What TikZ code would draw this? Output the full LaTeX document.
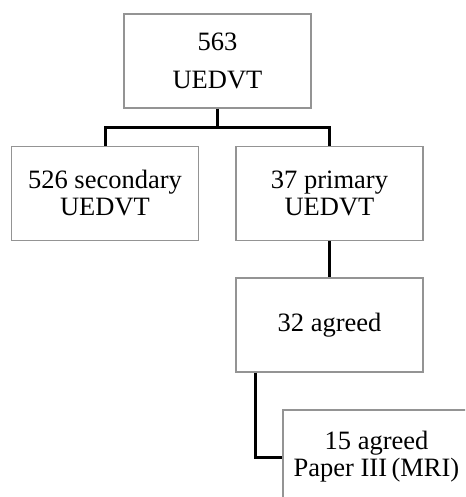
\documentclass[tikz,border=0pt]{standalone}
\usepackage{fontspec}
\setmainfont{Liberation Serif}
\begin{document}
\begin{tikzpicture}[x=1pt,y=-1pt,
  box/.style={draw=black!42,line width=1.2pt,minimum width=187pt,minimum height=94pt,
    inner sep=0pt,align=center,font=\fontsize{26.5pt}{27pt}\selectfont},
  conn/.style={line width=3pt,black}]
\useasboundingbox (0,0) rectangle (465,497);
\clip (0,0) rectangle (465,497);
\node[box,font=\fontsize{26.5pt}{38pt}\selectfont] (top) at (217.5,61) {563\\UEDVT};
\node[box] (left) at (105,193.5) {526 secondary\\UEDVT};
\node[box] (right) at (329.5,193.5) {37 primary\\UEDVT};
\node[box] (agr) at (329.5,325) {32 agreed};
\node[box] (bot) at (376.5,457) {15 agreed\\Paper III\,(MRI)};
\coordinate (j) at ([yshift=-19pt]top.south);
\draw[conn] (top.south) -- (j);
\draw[conn] (left.north) |- (j) -| (right.north);
\draw[conn] (right.south) -- (agr.north);
\draw[conn] ([xshift=-74.5pt]agr.south) |- (bot.west);
\end{tikzpicture}
\end{document}
